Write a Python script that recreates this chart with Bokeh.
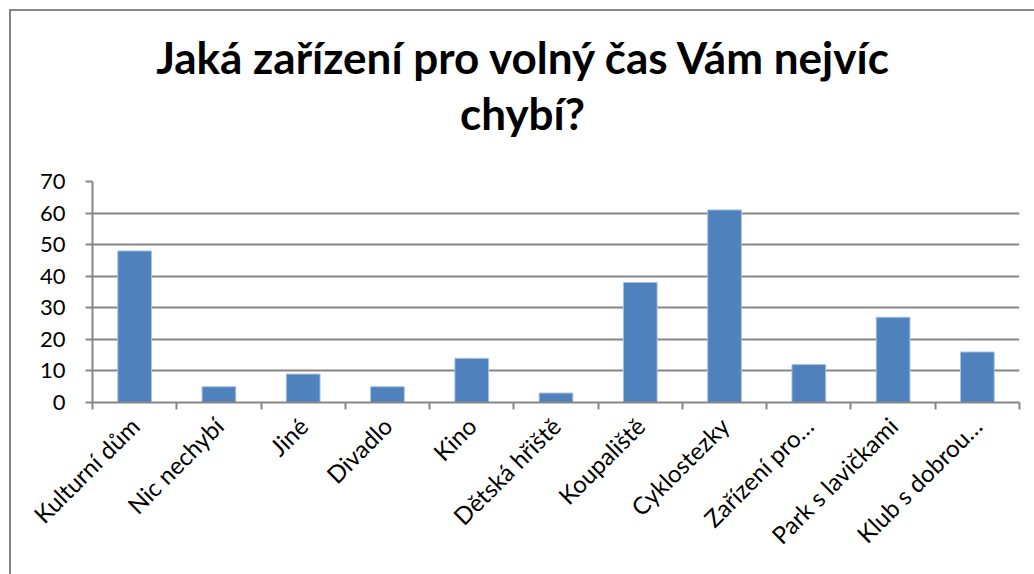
import math
from bokeh.plotting import figure
from bokeh.models import ColumnDataSource, FixedTicker, Range1d, Div
from bokeh.layouts import column
from bokeh.embed import file_html
from bokeh.resources import INLINE

categories = ["Kulturní dům", "Nic nechybí", "Jiné", "Divadlo", "Kino", "Dětská hřiště",
              "Koupaliště", "Cyklostezky", "Zařízení pro…", "Park s lavičkami", "Klub s dobrou…"]
values = [48, 5, 9, 5, 14, 3, 38, 61, 12, 27, 16]
y_ticks = [0, 10, 20, 30, 40, 50, 60, 70]
title_lines = ["Jaká zařízení pro volný čas Vám nejvíc", "chybí?"]

n = len(categories)
centers = [i + 0.5 for i in range(n)]
bounds = list(range(n + 1))

src = ColumnDataSource(dict(x=centers, top=values, name=categories))

GRAY = "#868686"
FONT = "Lato"

title_div = Div(
    text=('<div style="width:997px;padding-left:26px;padding-top:18px;text-align:center;'
          f'font-family:{FONT};font-weight:bold;font-size:44px;line-height:56px;color:black;">'
          + "<br>".join(title_lines) + "</div>"),
    width=1023, height=140, margin=0)

p = figure(width=1023, height=423, output_backend="svg", toolbar_location=None,
           x_range=Range1d(0, n), y_range=Range1d(0, 70),
           min_border_left=81, min_border_right=15, min_border_top=30, min_border_bottom=172)
p.outline_line_color = None
p.background_fill_color = "white"
p.border_fill_color = "white"

p.vbar(x="x", top="top", bottom=0, width=0.4, source=src,
       fill_color="#4F81BD", line_color="#A9C1E0", line_width=1)

# y axis
p.yaxis.ticker = FixedTicker(ticks=y_ticks)
p.yaxis.axis_line_color = GRAY
p.yaxis.axis_line_width = 2
p.yaxis.major_tick_line_color = GRAY
p.yaxis.major_tick_line_width = 2
p.yaxis.major_tick_out = 7
p.yaxis.major_tick_in = 0
p.yaxis.minor_tick_line_color = None
p.yaxis.major_label_text_font = FONT
p.yaxis.major_label_text_font_size = "22px"
p.yaxis.major_label_text_color = "black"
p.yaxis.major_label_standoff = 20

# x axis: labels at centers, tick marks at boundaries (minor ticks)
p.xaxis.ticker = FixedTicker(ticks=centers, minor_ticks=bounds)
p.xaxis.major_label_overrides = {c: name for c, name in zip(centers, categories)}
p.xaxis.major_tick_line_color = None
p.xaxis.minor_tick_line_color = GRAY
p.xaxis.minor_tick_line_width = 2
p.xaxis.minor_tick_out = 7
p.xaxis.minor_tick_in = 0
p.xaxis.axis_line_color = GRAY
p.xaxis.axis_line_width = 2
p.xaxis.major_label_orientation = math.pi / 4
p.xaxis.major_label_text_font = FONT
p.xaxis.major_label_text_font_size = "24px"
p.xaxis.major_label_text_color = "black"
p.xaxis.major_label_standoff = 12

p.xgrid.grid_line_color = None
p.ygrid.ticker = FixedTicker(ticks=y_ticks)
p.ygrid.grid_line_color = GRAY
p.ygrid.grid_line_width = 2

layout = column(title_div, p, spacing=0)
layout.styles = {"margin-left": "9px", "margin-top": "9px", "background-color": "white",
                 "border-left": f"2px solid {GRAY}", "border-top": f"2px solid {GRAY}"}

open("out.html", "w").write(file_html(layout, INLINE))
